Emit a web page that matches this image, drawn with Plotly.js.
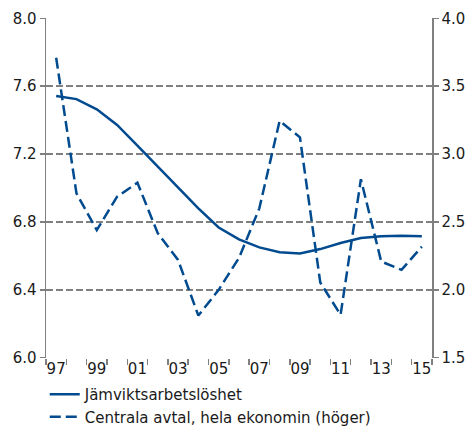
<!DOCTYPE html>
<html>
<head>
<meta charset="utf-8">
<script src="https://cdn.plot.ly/plotly-3.0.1.min.js"></script>
<style>
  html, body { margin: 0; padding: 0; background: #fff; }
  #chart { width: 471px; height: 427px; }
</style>
</head>
<body>
<div id="chart"></div>
<script>
// Years (x), tick labels
const years = [1997,1998,1999,2000,2001,2002,2003,2004,2005,2006,2007,2008,2009,2010,2011,2012,2013,2014,2015];
const tickYears = [1997,1999,2001,2003,2005,2007,2009,2011,2013,2015];
const tickLabels = ['97','99','01','03','05','07','09','11','13','15'];

// Series
const seriesNames = ['Jämviktsarbetslöshet', 'Centrala avtal, hela ekonomin (höger)'];
const jamvikt = [7.542,7.524,7.464,7.372,7.250,7.128,7.005,6.880,6.767,6.697,6.650,6.621,6.614,6.640,6.676,6.705,6.715,6.718,6.716];
const avtal   = [3.71,2.71,2.44,2.686,2.789,2.417,2.22,1.81,2.00,2.235,2.60,3.245,3.123,2.054,1.816,2.814,2.208,2.147,2.318];

const blue = '#004a8f';
const grey = '#808080';
const txt = '#1a1a1a';
const fontFam = 'DejaVu Sans, Verdana, sans-serif';

const traces = [
  { x: years, y: jamvikt, name: seriesNames[0], type: 'scatter', mode: 'lines',
    line: { color: blue, width: 2.5 }, yaxis: 'y' },
  { x: years, y: avtal, name: seriesNames[1], type: 'scatter', mode: 'lines',
    line: { color: blue, width: 2.5, dash: '11px,5px' }, yaxis: 'y2' }
];

const layout = {
  width: 471, height: 427,
  margin: { l: 46, r: 39, t: 18, b: 69, autoexpand: false },
  paper_bgcolor: '#fff', plot_bgcolor: '#fff',
  font: { family: fontFam, size: 15, color: txt },
  showlegend: true,
  legend: { xref: 'container', yref: 'container',
            x: 0.095, y: 0.1145, xanchor: 'left', yanchor: 'top',
            orientation: 'v', font: { family: fontFam, size: 15, color: txt },
            bgcolor: 'rgba(0,0,0,0)', tracegroupgap: 0 },
  xaxis: {
    range: [1996.5, 2015.5],
    tickmode: 'array', tickvals: tickYears, ticktext: tickLabels,
    ticks: '', showgrid: false, showline: false, zeroline: false,
    tickfont: { family: fontFam, size: 15, color: txt },
    minor: { tickmode: 'linear', tick0: 1996.5, dtick: 1, ticks: 'outside',
             ticklen: 6, tickwidth: 1.5, tickcolor: grey, showgrid: false }
  },
  yaxis: {
    range: [5.998, 8.002], tickmode: 'linear', tick0: 6, dtick: 0.4, tickformat: '.1f',
    showline: true, linecolor: grey, linewidth: 1.5,
    ticks: 'outside', ticklen: 5, tickwidth: 1.5, tickcolor: grey,
    showgrid: true, gridcolor: grey, gridwidth: 1.6, griddash: '7px,3px',
    zeroline: false,
    tickfont: { family: fontFam, size: 15, color: txt }
  },
  yaxis2: {
    range: [1.4975, 4.0025], tickmode: 'linear', tick0: 1.5, dtick: 0.5, tickformat: '.1f',
    overlaying: 'y', side: 'right',
    showline: true, linecolor: grey, linewidth: 1.5,
    ticks: 'outside', ticklen: 5, tickwidth: 1.5, tickcolor: grey,
    showgrid: false, zeroline: false,
    tickfont: { family: fontFam, size: 15, color: txt }
  }
};

Plotly.newPlot('chart', traces, layout, { displayModeBar: false, staticPlot: true });
</script>
</body>
</html>
